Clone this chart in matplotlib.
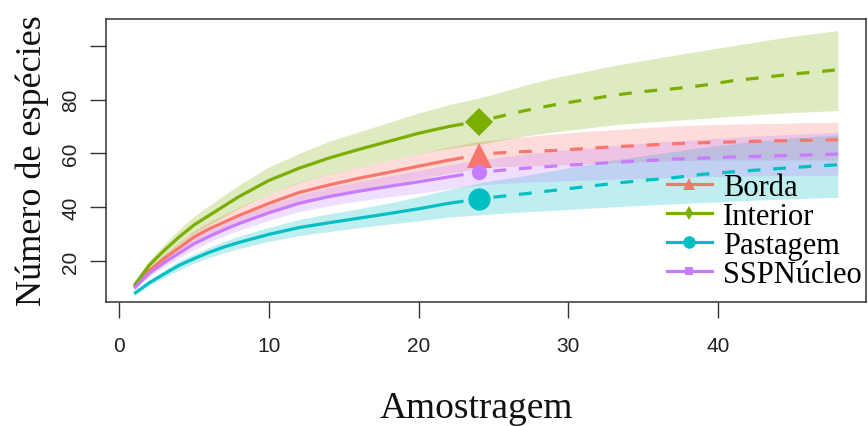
import matplotlib
matplotlib.use('Agg')
import matplotlib.pyplot as plt
from matplotlib.lines import Line2D

# sample sizes (knots); 24 = reference (observed) sample
t = [1, 2, 3, 4, 5, 6, 7, 8, 10, 12, 14, 16, 18, 20, 22, 23, 24,
     25, 27, 29, 31, 33, 35, 37, 39, 41, 43, 45, 47, 48]
t_obs = 24

borda_mean = [10.5, 16.5, 21, 25, 29, 32, 34.5, 37, 41.5, 45.5, 48.3, 50.8, 53, 55.3, 57.5, 58.5, 59.5,
              60.1, 60.7, 61.1, 61.8, 62.5, 63, 63.6, 64, 64.3, 64.6, 64.8, 65, 65.1]
borda_lo = [9.7, 15.2, 19.3, 23, 26.7, 29.4, 31.6, 33.9, 38, 41.6, 44.2, 46.5, 48.5, 50.6, 52.6, 53.5, 54.5,
            55, 55.4, 55.6, 56.1, 56.6, 56.9, 57.3, 57.5, 57.6, 57.6, 57.6, 57.6, 57.6]
borda_hi = [11.3, 17.8, 22.7, 27, 31.3, 34.6, 37.4, 40.1, 45, 49.4, 52.4, 55.1, 57.5, 60, 62.4, 63.5, 64.5,
            65, 66.2, 67.2, 68.1, 68.8, 69.5, 70.2, 70.6, 70.9, 71.1, 71.3, 71.5, 71.6]

interior_mean = [11, 18.5, 24, 29, 33.5, 37, 40.5, 44, 50, 54.5, 58.3, 61.5, 64.5, 67.5, 70, 71, 71.8,
                 73.2, 75.8, 78, 79.8, 81.6, 83, 84, 85.3, 87, 88.2, 89.5, 90.5, 91.1]
interior_lo = [10, 16.7, 21.7, 26.2, 30.3, 33.4, 36.5, 39.7, 45, 49.2, 52.3, 55, 57.5, 60, 61.9, 62.7, 63.3,
               64.4, 66.4, 68, 69.3, 70.6, 71.5, 72.3, 73, 73.8, 74.6, 75.2, 75.7, 75.9]
interior_hi = [12, 20.3, 26.3, 31.8, 36.7, 40.6, 44.5, 48.3, 55, 60, 64.5, 68, 71.5, 75, 78.1, 79.3, 80.5,
               82, 85.2, 88, 90.3, 92.6, 94.5, 96.4, 98.2, 100, 101.8, 103.5, 104.9, 105.6]

pastagem_mean = [8, 12, 15.3, 18.5, 21, 23.3, 25.3, 27, 30, 32.5, 34.3, 36, 37.7, 39.5, 41.5, 42.3, 43.1,
                 43.8, 45, 46.3, 47.6, 48.9, 50, 51, 52.3, 53.2, 54, 54.8, 55.5, 55.8]
pastagem_lo = [7.3, 11, 14, 16.8, 19.3, 21.4, 23.2, 24.7, 27.4, 29.5, 31, 32.5, 33.8, 35, 36.4, 36.8, 37.2,
               37.6, 38.3, 38.9, 39.6, 40.2, 40.8, 41.3, 41.8, 42.3, 42.8, 43.2, 43.6, 43.7]
pastagem_hi = [8.7, 13, 16.6, 20.2, 22.7, 25.2, 27.4, 29.3, 32.6, 35.5, 37.6, 39.5, 41.6, 44, 46.6, 47.8, 49,
               50, 51.7, 53.7, 55.6, 57.6, 59.2, 60.7, 62.3, 63.6, 64.8, 65.8, 66.5, 67]

ssp_mean = [10, 15.5, 19.5, 23, 26.5, 29.2, 31.7, 34, 38, 41.5, 44, 46, 47.8, 49.5, 51.3, 52.2, 53,
            53.5, 54.5, 55.3, 56, 56.7, 57.3, 57.9, 58.3, 58.7, 59, 59.3, 59.6, 59.8]
ssp_lo = [9.2, 14.3, 18, 21.2, 24.3, 27.1, 29.4, 31.5, 35.2, 38.4, 40.6, 42.4, 43.9, 45.3, 46.8, 47.6, 48.3,
          48.7, 49.3, 49.7, 50.1, 50.5, 50.8, 51.1, 51.3, 51.5, 51.7, 51.8, 51.9, 52]
ssp_hi = [10.8, 16.7, 21, 24.8, 28.7, 31.3, 34, 36.5, 40.8, 44.6, 47.4, 49.6, 51.7, 53.7, 55.8, 56.8, 57.7,
          58.3, 59.7, 60.9, 61.9, 62.9, 63.8, 64.7, 65.3, 66, 66.6, 67.1, 67.6, 67.9]

labels = ["Borda", "Interior", "Pastagem", "SSPNúcleo"]
colors = ["#F8766D", "#7CAE00", "#00BFC4", "#C77CFF"]
means = [borda_mean, interior_mean, pastagem_mean, ssp_mean]
los = [borda_lo, interior_lo, pastagem_lo, ssp_lo]
his = [borda_hi, interior_hi, pastagem_hi, ssp_hi]
obs_markers = ["^", "D", "o", "o"]
obs_sizes = [18, 14, 16, 11]
leg_markers = ["^", "d", "o", "s"]
leg_sizes = [9, 7, 9, 6]

x_ticks = [0, 10, 20, 30, 40]
y_ticks = [20, 40, 60, 80, 100]
y_ticklabels = ["20", "40", "60", "80", ""]

fig = plt.figure(figsize=(8.68, 4.27), dpi=100)
ax = fig.add_axes([106 / 868, 1 - 303 / 427, 760 / 868, 283 / 427])

for lo, hi, c in zip(los, his, colors):
    ax.fill_between(t, lo, hi, color=c, alpha=0.25, lw=0)

i_obs = t.index(t_obs)
for m, c, mk, ms in zip(means, colors, obs_markers, obs_sizes):
    ax.plot(t[:i_obs], m[:i_obs], color=c, lw=2.3, solid_capstyle='butt')
    ax.plot(t[i_obs + 1:], m[i_obs + 1:], color=c, lw=2.3, linestyle=(0, (4, 4)))
    ax.plot([t[i_obs]], [m[i_obs]], marker=mk, color=c, ms=ms, mew=0, ls='none')

ax.set_xlim(-0.88, 49.88)
ax.set_ylim(4.9, 109.9)
for s in ax.spines.values():
    s.set_color('#333333')
    s.set_linewidth(1.1)

ax.set_xticks(x_ticks)
ax.set_xticklabels([str(v) for v in x_ticks], fontfamily='Liberation Sans', fontsize=15, color='#222222')
ax.set_yticks(y_ticks)
ax.set_yticklabels(y_ticklabels, rotation=90, va='center', fontfamily='Liberation Sans',
                   fontsize=15, color='#222222')
ax.tick_params(axis='both', direction='out', length=11.5, width=1.0, color='#333333')
ax.tick_params(axis='x', pad=13)
ax.tick_params(axis='y', pad=7)

fig.text(476 / 868, 1 - 418 / 427, "Amostragem", fontfamily='Liberation Serif', fontsize=27,
         ha='center', va='baseline', color='#111111')
fig.text(32 / 868, 1 - 161 / 427, "Número de espécies", fontfamily='Liberation Serif', fontsize=26,
         ha='center', va='center', rotation=90, color='#111111')

handles = [Line2D([], [], color=c, lw=2.3, marker=mk, ms=ms, mew=0)
           for c, mk, ms in zip(colors, leg_markers, leg_sizes)]
ax.legend(handles, labels, loc='upper left', bbox_to_anchor=(0.738, 0.457), frameon=False,
          prop={'family': 'Liberation Serif', 'size': 22}, handlelength=1.47,
          handletextpad=0.36, labelspacing=0.0, borderpad=0, borderaxespad=0)

fig.savefig("out.png", dpi=100)
